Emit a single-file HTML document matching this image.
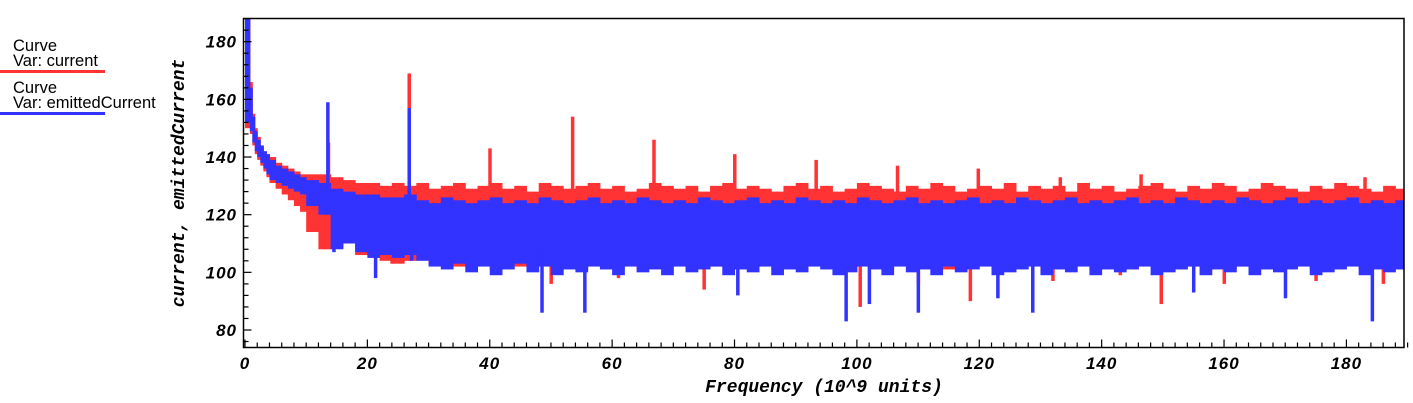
<!DOCTYPE html>
<html><head><meta charset="utf-8">
<style>
html,body{margin:0;padding:0;background:#fff;}
body{width:1413px;height:403px;overflow:hidden;position:relative;font-family:"Liberation Sans",sans-serif;}
.leg{position:absolute;font-size:16.5px;color:#000;left:13px;line-height:15px;}
.legline{position:absolute;left:0;width:105px;height:3px;}
</style></head><body>
<div class="leg" style="top:39px">Curve<br>Var: current</div>
<div class="legline" style="top:70px;background:#ff3333"></div>
<div class="leg" style="top:81px">Curve<br>Var: emittedCurrent</div>
<div class="legline" style="top:112px;background:#3333ff"></div>
<svg id="chart" width="1413" height="403" style="position:absolute;left:0;top:0"></svg>
<script>
// decay region (fine bins)
const decayX   = [0,0.4,0.8,1.2,1.6,2,2.5,3,3.5,4,5,6,7,8,9,10];
const decayRTop= [188,188,166,155,150,147,144,142,141,140,138,137,136,135,134];
const decayRBot= [150,150,148,144,141,139,137,135,133,131,129,127,125,123,121];
const decayBTop= [188,188,164,154,149,146,144,142,141,139,137,136,135,134,133];
const decayBBot= [152,152,149,145,142,140,138,136,134,132,131,130,129,128,127];
// 2-unit bins from x=10 to 190
const binStart0 = 10;
const rTop=[134,134,133,132,131,131,130,131,130, 131,129,130,131,129,130,131,129,130,128,131,130,129,130,131,129,130,128,129,131,130,129,130,128,130,131,129,130,129,128,130,131,129,130,128,129,131,130,129,128,130,129,131,130,128,129,130,129,131,128,130,129,130,128,131,129,130,128,129,130,131,129,128,130,129,131,130,128,129,131,130,129,128,130,129,131,130,129,128,130,129];
const rBot=[114,108,109,110,106,107,104,103,104, 106,103,105,102,104,103,101,104,102,105,103,102,104,101,103,104,102,103,101,104,102,103,101,104,102,103,102,101,103,104,102,101,103,102,104,101,103,102,101,103,104,102,103,101,102,104,103,101,102,103,104,101,103,102,104,101,102,103,101,104,102,103,101,102,104,103,101,102,103,101,104,102,103,101,102,104,103,101,102,103,101];
const bTop=[132,131,129,128,127,127,126,126,127, 125,124,126,125,124,125,126,124,125,124,126,125,124,125,126,124,125,124,126,125,124,125,124,126,125,124,125,126,124,125,124,126,125,124,125,124,126,125,124,125,126,124,125,124,125,126,124,125,124,126,125,124,125,126,124,125,124,125,126,124,125,124,126,125,124,125,124,126,125,124,125,126,124,125,124,125,126,124,125,124,125];
const bBot=[123,120,108,110,107,105,106,105,106, 104,102,101,103,100,102,99,101,103,100,102,99,101,100,102,101,99,102,100,101,99,102,100,101,102,99,101,100,102,99,101,100,102,101,99,100,102,101,99,102,100,101,99,102,100,101,102,99,100,101,102,99,101,100,102,99,101,100,101,102,99,100,101,102,99,101,100,102,99,101,100,101,102,99,100,101,102,99,101,100,101];
// sharp peaks
const rPeakX=[13.6,26.8,40,53.5,66.8,80,93.3,106.6,119.8,133.2,146.4,183];
const rPeakY=[145,169,143,154,146,141,139,137,136,133,134,133];
const bPeakX=[13.5,26.8];
const bPeakY=[159,157];
const rDipX=[13,24,27,50,61,75,100.5,110,118.5,132,143,149.7,160,175,186];
const rDipY=[108,103,104,96,98,94,88,96,90,97,99,89,96,97,96];
const bDipX=[14.5,21.3,27.2,48.5,55.5,80.5,98.2,102,110,123,128.7,155,170,184.2];
const bDipY=[107,98,104,86,86,92,83,89,86,91,86,93,91,83];
const xTicks=[0,20,40,60,80,100,120,140,160,180];
const yTicks=[80,100,120,140,160,180];

const svg=document.getElementById('chart');
const NS='http://www.w3.org/2000/svg';
const L=243.5,R=1404,T=18.5,B=347.5;
const X=v=>245+v*6.119;
const Y=v=>330-(v-80)*2.883;
function mk(tag,attrs,parent){const e=document.createElementNS(NS,tag);for(const k in attrs)e.setAttribute(k,attrs[k]);(parent||svg).appendChild(e);return e;}
const clip=mk('clipPath',{id:'pc'});mk('rect',{x:L,y:T,width:R-L,height:B-T},clip);
const g=mk('g',{'clip-path':'url(#pc)'});


function band(xs,top,bot,color,name){
  for(let i=0;i<top.length;i++){
    const r=mk('rect',{x:X(xs[i]),y:Y(top[i]),width:X(xs[i+1])-X(xs[i])+0.5,height:Math.max(1,Y(bot[i])-Y(top[i])),fill:color},g);
    
    
  }
}
function binned(top,bot,color,name){
  for(let i=0;i<top.length;i++){
    const x0=binStart0+i*2;
    const r=mk('rect',{x:X(x0),y:Y(top[i]),width:X(x0+2)-X(x0)+0.5,height:Y(bot[i])-Y(top[i]),fill:color},g);
    
    
  }
}
function spikes(xs,ys,base,color,name){
  for(let i=0;i<xs.length;i++){
    const y1=Y(ys[i]),y0=Y(base);
    const r=mk('rect',{x:X(xs[i])-1.5,y:Math.min(y0,y1),width:3.5,height:Math.abs(y0-y1),fill:color},g);
    
    
  }
}
const RED='#ff3333',BLUE='#3333ff';
band(decayX,decayRTop,decayRBot,RED,'current-band');
binned(rTop,rBot,RED,'current-band');
spikes(rPeakX,rPeakY,125,RED,'current-peak');
spikes(rDipX,rDipY,110,RED,'current-dip');
band(decayX,decayBTop,decayBBot,BLUE,'emitted-band');
binned(bTop,bBot,BLUE,'emitted-band');
spikes(bPeakX,bPeakY,120,BLUE,'emitted-peak');
spikes(bDipX,bDipY,110,BLUE,'emitted-dip');

const frame=mk('rect',{x:L,y:T,width:R-L,height:B-T,fill:'none',stroke:'#000','stroke-width':1.5});


for(let v=0;v<=190;v+=2){
  const major=v%20===0;
  mk('line',{x1:X(v),x2:X(v),y1:B,y2:B-(major?8:5),stroke:'#000','stroke-width':1.2});
}
xTicks.forEach(v=>{
  const t=mk('text',{x:X(v),y:369,'text-anchor':'middle','font-family':'Liberation Sans, sans-serif','font-size':17,'font-weight':'bold','font-style':'italic','letter-spacing':1});
  t.textContent=v;
  
  
});
for(let v=76;v<=188;v+=4){
  const major=v%20===0;
  mk('line',{x1:L,x2:L+(major?8:5),y1:Y(v),y2:Y(v),stroke:'#000','stroke-width':1.2});
}
yTicks.forEach(v=>{
  const t=mk('text',{x:237,y:Y(v)+6,'text-anchor':'end','font-family':'Liberation Sans, sans-serif','font-size':17,'font-weight':'bold','font-style':'italic','letter-spacing':1});
  t.textContent=v;
  
  
});
const xt=mk('text',{x:824,y:392,'text-anchor':'middle','font-family':'Liberation Mono, monospace','font-size':18,'font-weight':'bold','font-style':'italic'});
xt.textContent='Frequency (10^9 units)';


const yt=mk('text',{x:0,y:0,transform:'translate(184,183) rotate(-90)','text-anchor':'middle','font-family':'Liberation Mono, monospace','font-size':18,'font-weight':'bold','font-style':'italic'});
yt.textContent='current, emittedCurrent';


</script>
</body></html>
